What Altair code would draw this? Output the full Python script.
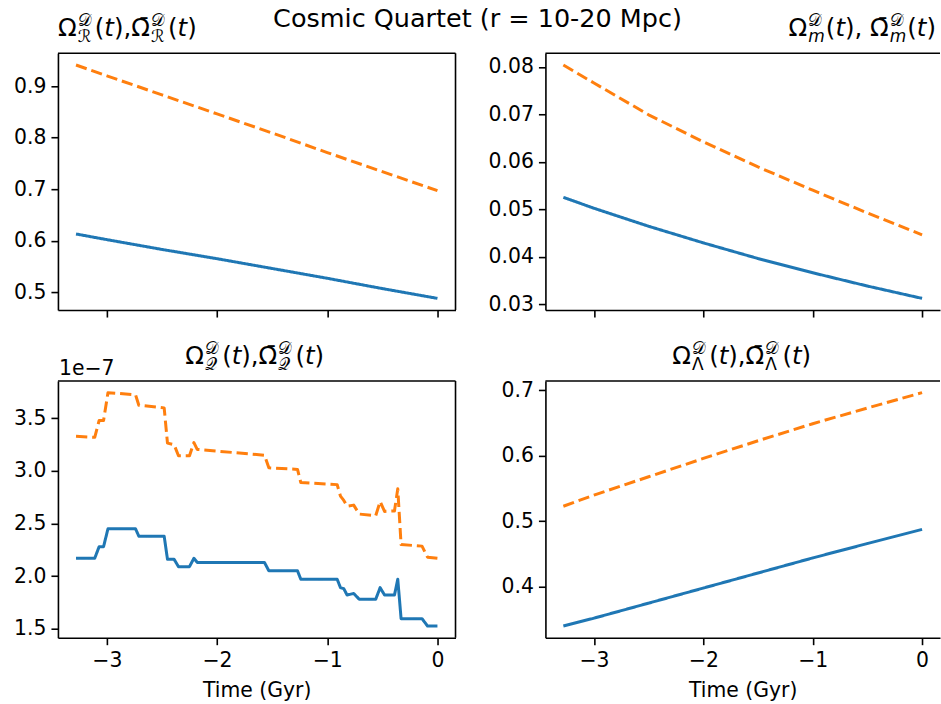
import altair as alt
import pandas as pd

FONT = "DejaVu Sans"
BLUE, ORANGE = "#1f77b4", "#ff7f0e"

# ---------------- data (time in Gyr) ----------------
t_smooth = [-3.28, -3.0, -2.5, -2.0, -1.5, -1.0, -0.5, 0.0]
R_solid = [0.613, 0.602, 0.583, 0.565, 0.546, 0.527, 0.507, 0.488]
R_dash = [0.941, 0.920, 0.883, 0.846, 0.809, 0.771, 0.734, 0.697]
m_solid = [0.0525, 0.0502, 0.0464, 0.0429, 0.0396, 0.0366, 0.0338, 0.0312]
m_dash = [0.0804, 0.0766, 0.0699, 0.0642, 0.0589, 0.0540, 0.0492, 0.0446]
L_solid = [0.340, 0.352, 0.375, 0.398, 0.421, 0.444, 0.466, 0.4876]
L_dash = [0.523, 0.540, 0.568, 0.596, 0.623, 0.649, 0.673, 0.6965]

t_q = [-3.28, -3.11, -3.07, -3.03, -2.99, -2.74, -2.71, -2.48, -2.45, -2.39, -2.35,
       -2.25, -2.21, -2.18, -1.57, -1.53, -1.27, -1.24, -0.91, -0.88, -0.85, -0.82,
       -0.76, -0.71, -0.56, -0.52, -0.48, -0.39, -0.36, -0.33, -0.14, -0.09, 0.0]
# values in units of 1e-7
q_solid = [2.17, 2.17, 2.28, 2.28, 2.45, 2.45, 2.38, 2.38, 2.16, 2.16, 2.09,
           2.09, 2.17, 2.13, 2.13, 2.05, 2.05, 1.97, 1.97, 1.89, 1.88, 1.82,
           1.835, 1.78, 1.78, 1.89, 1.82, 1.82, 1.97, 1.595, 1.595, 1.525, 1.525]
q_dash = [3.33, 3.32, 3.48, 3.48, 3.745, 3.725, 3.625, 3.60, 3.265, 3.25, 3.145,
          3.145, 3.27, 3.205, 3.15, 3.03, 3.015, 2.89, 2.87, 2.76, 2.72, 2.665,
          2.675, 2.59, 2.575, 2.71, 2.615, 2.62, 2.83, 2.30, 2.285, 2.18, 2.17]

X_TICKS = [-3, -2, -1, 0]
SUPTITLE = "Cosmic Quartet (r = 10-20 Mpc)"

# ---------------- layout ----------------
PW_L, PW_R, PH = 398, 395, 257
HSP, VSP = 90, 71
LEFT, TOP, BOTTOM_EXTRA = 58, 53, 66
TS, SS, LS, SUPS = 24.5, 17.0, 20.4, 25.5


def domain(lists, frac=0.05):
    lo = min(min(v) for v in lists)
    hi = max(max(v) for v in lists)
    p = (hi - lo) * frac
    return [lo - p, hi + p]


XDOM = domain([t_smooth, t_q])

EM = {"Ω": 0.764, "(": 0.39, ")": 0.39, "t": 0.392, ",": 0.318, " ": 0.318,
      "m": 0.974, "𝒟": 0.95, "ℛ": 0.95, "𝒬": 0.90, "Λ": 0.684, "\u0304": 0.0}


def tw(s, size):
    return sum(EM.get(c, 0.6) for c in s) * size


ONE = pd.DataFrame({"k": [0]})


def text_mark(txt, x, y, size, align="left", italic=False):
    return alt.Chart(ONE).mark_text(
        text=txt, font=FONT, fontSize=size, fontStyle="italic" if italic else "normal",
        align=align, baseline="alphabetic", color="black"
    ).encode(x=alt.value(x), y=alt.value(y))


def math_title(segs, ax, by, align):
    def segw(s):
        if s[0] == "t":
            return tw(s[1], TS)
        return max(tw(s[1], SS), tw(s[2], SS)) + 2
    total = sum(segw(s) for s in segs)
    x = ax if align == "left" else (ax - total if align == "right" else ax - total / 2)
    layers = []
    for s in segs:
        if s[0] == "t":
            layers.append(text_mark(s[1], x, by, TS, italic=s[2]))
        else:
            layers.append(text_mark(s[1], x + 1, by - 10, SS))
            layers.append(text_mark(s[2], x + 1, by + 6, SS, italic=s[3]))
        x += segw(s)
    return layers


def omega_pair(sub, sub_it, sep):
    return [("t", "Ω", False), ("s", "𝒟", sub, sub_it), ("t", "(", False), ("t", "t", True),
            ("t", ")" + sep, False), ("t", "Ω\u0304", False), ("s", "𝒟", sub, sub_it),
            ("t", "(", False), ("t", "t", True), ("t", ")", False)]


def rule(x, x2, y, y2, opacity=1.0):
    enc = {"x": alt.value(x), "y": alt.value(y)}
    if x2 is not None:
        enc["x2"] = alt.value(x2)
    if y2 is not None:
        enc["y2"] = alt.value(y2)
    return alt.Chart(ONE).mark_rule(color="black", strokeWidth=1.6, strokeOpacity=opacity).encode(**enc)


def panel(t, solid, dashed, yticks, yfmt, width, bottom, right_col, extra):
    n = len(t)
    df = pd.DataFrame({"t": list(t) * 2, "v": list(solid) + list(dashed),
                       "s": ["solid"] * n + ["dashed"] * n})
    ydom = domain([solid, dashed])
    if bottom:
        xax = alt.Axis(values=X_TICKS, format="d", title="Time (Gyr)", labelPadding=6, titlePadding=9)
    else:
        xax = alt.Axis(values=X_TICKS, labels=False, title=None)
    yax = alt.Axis(values=yticks, format=yfmt, title=None)
    lines = alt.Chart(df).mark_line(strokeWidth=3, strokeCap="butt", strokeJoin="round").encode(
        x=alt.X("t:Q", scale=alt.Scale(domain=XDOM, nice=False, zero=False), axis=xax),
        y=alt.Y("v:Q", scale=alt.Scale(domain=ydom, nice=False, zero=False), axis=yax),
        color=alt.Color("s:N", scale=alt.Scale(domain=["solid", "dashed"], range=[BLUE, ORANGE]), legend=None),
        strokeDash=alt.StrokeDash("s:N", scale=alt.Scale(domain=["solid", "dashed"],
                                                         range=[[1, 0], [11.3, 4.9]]), legend=None),
    )
    layers = [lines, rule(0, width, 0, None)]
    if not right_col:
        layers.append(rule(width, None, 0, PH))
    layers += extra
    return alt.layer(*layers).properties(width=width, height=PH)


tl_extra = (
    [rule(-LEFT, -LEFT + 1, -TOP, None, opacity=0.0),
     text_mark(SUPTITLE, 478 - LEFT, -26, SUPS, align="center")]
    + math_title(omega_pair("ℛ", False, ","), 0, -17, "left")
)
tr_extra = math_title(omega_pair("m", True, ", "), 937 - (LEFT + PW_L + HSP), -17, "right")
bl_extra = (
    [rule(0, 1, PH + BOTTOM_EXTRA, None, opacity=0.0),
     text_mark("1e\u22127", 1, -6, LS)]
    + math_title(omega_pair("𝒬", False, ","), PW_L / 2 - 2, -17, "center")
)
br_extra = math_title(omega_pair("Λ", False, ","), PW_R / 2 - 1, -17, "center")

p_tl = panel(t_smooth, R_solid, R_dash, [0.5, 0.6, 0.7, 0.8, 0.9], ".1f", PW_L, False, False, tl_extra)
p_tr = panel(t_smooth, m_solid, m_dash, [0.03, 0.04, 0.05, 0.06, 0.07, 0.08], ".2f", PW_R, False, True, tr_extra)
p_bl = panel(t_q, q_solid, q_dash, [1.5, 2.0, 2.5, 3.0, 3.5], ".1f", PW_L, True, False, bl_extra)
p_br = panel(t_smooth, L_solid, L_dash, [0.4, 0.5, 0.6, 0.7], ".1f", PW_R, True, True, br_extra)

chart = alt.concat(
    p_tl, p_tr, p_bl, p_br, columns=2,
    spacing={"row": VSP, "column": HSP}, bounds="flush"
).properties(
    padding={"left": 0, "top": 0, "right": 0, "bottom": 0}
).configure_view(stroke=None).configure_axis(
    grid=False,
    domain=True, domainColor="black", domainWidth=1.6,
    tickColor="black", tickWidth=1.6, tickSize=7,
    labelFont=FONT, labelFontSize=LS, labelColor="black", labelPadding=5,
    titleFont=FONT, titleFontSize=LS, titleFontWeight="normal", titleColor="black", titlePadding=4,
)

chart.save("out.html", embed_options={"renderer": "svg", "actions": False})
